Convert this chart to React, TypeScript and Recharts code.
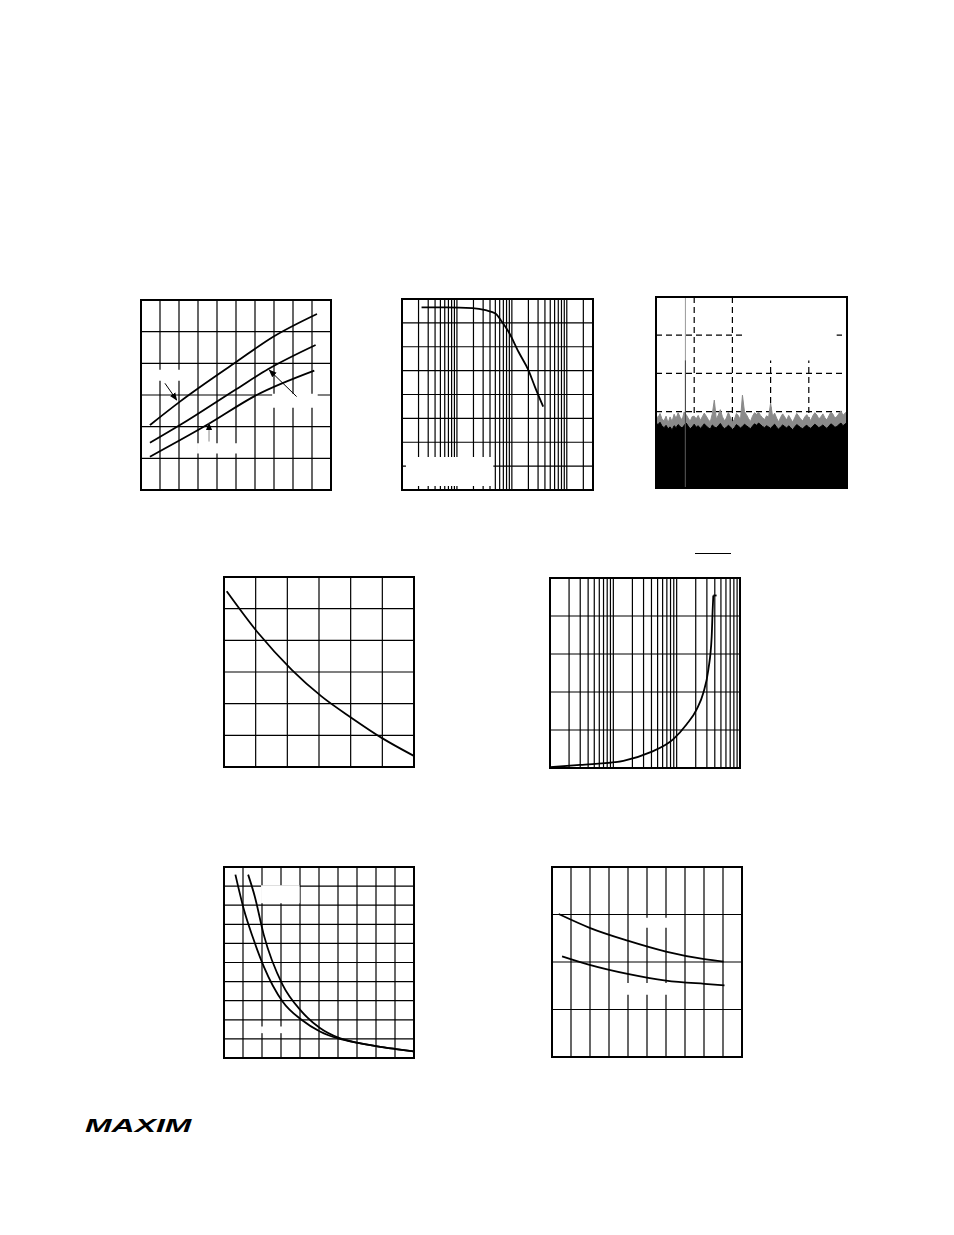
import React from "react";
import {
  ComposedChart,
  Line,
  Area,
  XAxis,
  YAxis,
  CartesianGrid,
  ReferenceArea,
} from "recharts";

// panel 1 (top left): three curves, 10 x 6 linear divisions
const p1UpperX = [0.47, 2.05, 5.03, 6.96, 9.26];
const p1UpperY = [2.05, 2.79, 4.05, 4.84, 5.56];
const p1MidX = [0.47, 2.05, 5.03, 6.7, 9.19];
const p1MidY = [1.49, 2.05, 3.19, 3.82, 4.58];
const p1LowX = [0.47, 3.46, 6.09, 9.12];
const p1LowY = [1.05, 2.05, 3.0, 3.77];

// panel 2 (top middle): roll-off on a log axis, 8 divisions
const p2X = [2.27, 6.37, 19.2, 33.3, 50.4, 63.4, 87.7, 132, 200, 263, 372];
const p2Y = [7.65, 7.65, 7.62, 7.53, 7.39, 7.1, 6.62, 5.79, 5.02, 4.32, 3.49];

// panel 3 (top right): spectrum, noise floor + tone, 5 x 5 divisions
const noiseFloor = [
  1.70, 1.66, 1.72, 1.62, 1.58, 1.64, 1.55, 1.60, 1.52, 1.63, 1.58, 1.66,
  1.61, 1.57, 1.64, 1.70, 1.62, 1.55, 1.60, 1.67, 1.59, 1.63, 1.56, 1.61,
  1.68, 1.62, 1.58, 1.54, 1.65, 1.60, 1.57, 1.63, 1.69, 1.61, 1.55, 1.59,
  1.64, 1.60, 1.53, 1.58, 1.66, 1.62, 1.57, 1.61, 1.67, 1.63, 1.59, 1.55,
  1.62, 1.68, 1.64, 1.70, 1.66, 1.61, 1.58, 1.63, 1.60, 1.56, 1.62, 1.67,
  1.59, 1.54, 1.60, 1.65, 1.61, 1.57, 1.63, 1.58, 1.52, 1.60, 1.66, 1.62,
  1.58, 1.55, 1.61, 1.64, 1.59, 1.56, 1.62, 1.67, 1.63, 1.58, 1.61, 1.65,
  1.60, 1.56, 1.62, 1.68, 1.64, 1.59, 1.61, 1.66, 1.70, 1.63, 1.67, 1.72,
];
const noisePeak = [
  1.90, 1.84, 1.95, 1.80, 1.76, 1.88, 1.70, 1.86, 1.74, 1.93, 1.82, 1.97,
  1.85, 1.78, 1.99, 1.92, 1.83, 1.75, 1.87, 1.88, 1.81, 1.90, 1.77, 1.86,
  1.96, 1.88, 1.79, 1.73, 1.94, 2.30, 1.80, 1.91, 2.05, 1.87, 1.76, 1.83,
  1.98, 1.85, 1.72, 1.80, 1.95, 1.89, 1.78, 2.43, 2.00, 1.92, 1.82, 1.74,
  1.88, 1.97, 1.93, 1.98, 1.90, 1.84, 1.79, 1.89, 1.85, 2.22, 1.87, 1.96,
  1.83, 1.73, 1.85, 1.94, 1.86, 1.78, 1.90, 1.81, 1.72, 1.84, 1.95, 1.88,
  1.80, 1.76, 1.86, 1.92, 1.83, 1.77, 1.89, 1.97, 1.91, 1.81, 1.86, 1.94,
  1.84, 1.78, 1.89, 1.99, 1.93, 1.83, 1.87, 1.95, 2.02, 1.90, 1.96, 2.00,
];
const toneX = [0.77];
const toneTop = [5.0];
const toneCore = [3.34];

// panel 4 (middle left): falling curve, 6 x 6 divisions
const p4X = [0.085, 1.08, 2.14, 3.08, 4.03, 4.98, 5.98];
const p4Y = [5.55, 4.23, 3.07, 2.23, 1.55, 0.92, 0.36];

// panel 5 (middle right): rising curve on log axis, 5 divisions
const p5X = [1, 2.98, 14.4, 37.9, 88.6, 144, 207, 264, 316, 357, 370, 379];
const p5Y = [0.02, 0.08, 0.19, 0.41, 0.76, 1.15, 1.54, 1.98, 2.58, 3.45, 4.15, 4.54];
const p5CapX = [379, 427];
const p5CapY = [4.54, 4.54];

// panel 6 (bottom left): two decaying curves, 10 x 10 divisions
const p6AX = [0.6, 1.05, 1.53, 2.09, 3.08, 4.08, 5.05, 6.05, 7.06, 8.07, 9.05, 9.97];
const p6AY = [9.6, 7.76, 6.28, 4.8, 2.96, 2.0, 1.39, 1.01, 0.79, 0.61, 0.47, 0.35];
const p6BX = [1.27, 1.62, 2.09, 3.08, 4.08, 5.05, 6.05, 7.06, 8.07, 9.05, 9.97];
const p6BY = [9.6, 8.46, 6.46, 3.84, 2.44, 1.57, 1.05, 0.79, 0.61, 0.47, 0.35];

// panel 7 (bottom right): two slowly falling curves, 10 x 4 divisions
const p7UpperX = [0.35, 1.98, 3.98, 6.0, 8.02, 9.03];
const p7UpperY = [3.01, 2.72, 2.45, 2.22, 2.06, 2.01];
const p7LowerX = [0.53, 1.98, 3.98, 6.0, 8.02, 9.08];
const p7LowerY = [2.12, 1.94, 1.75, 1.61, 1.54, 1.51];

// grid ticks
const ticks10 = [1, 2, 3, 4, 5, 6, 7, 8, 9];
const ticks6 = [1, 2, 3, 4, 5];
const ticks8 = [1, 2, 3, 4, 5, 6, 7];
const ticks5 = [1, 2, 3, 4];
const ticks4 = [1, 2, 3];
const logTicks2 = [
  2, 3, 4, 5, 6, 7, 8, 9, 10, 20, 30, 40, 50, 60, 70, 80, 90, 100, 200, 300,
  400, 500, 600, 700, 800, 900, 1000, 2000,
];
const logTicks5 = [
  2, 3, 4, 5, 6, 7, 8, 9, 10, 20, 30, 40, 50, 60, 70, 80, 90, 100, 200, 300,
  400, 500, 600, 700, 800, 900,
];

// arrows in panel 1
const arrow1X = [1.26, 1.88];
const arrow1Y = [3.37, 2.84];
const arrow2X = [8.19, 6.75];
const arrow2Y = [2.95, 3.79];
const arrow3X = [3.58, 3.58];
const arrow3Y = [1.53, 2.11];

const pts = (xs: number[], ys: number[]) => xs.map((x, i) => ({ x, y: ys[i] }));

const noiseData = noiseFloor.map((f, i) => ({
  x: (i * 5) / (noiseFloor.length - 1),
  floor: f,
  peak: noisePeak[i],
}));

const M = { top: 0, right: 0, bottom: 0, left: 0 };

function Panel({ left, top, w, h, children }: any) {
  return (
    <div style={{ position: "absolute", left, top, width: w, height: h, background: "#fff" }}>
      {children}
      <div
        style={{
          position: "absolute",
          left: -1,
          top: -1,
          width: w + 2,
          height: h + 2,
          border: "2px solid #000",
          boxSizing: "border-box",
          pointerEvents: "none",
        }}
      />
    </div>
  );
}

const curve = (data: any[], key: string, color = "#000", width = 1.8) => (
  <Line
    key={key}
    data={data}
    dataKey="y"
    type="monotone"
    stroke={color}
    strokeWidth={width}
    dot={false}
    isAnimationActive={false}
  />
);

const arrow = (data: any[], key: string, color = "#000") => (
  <Line
    key={key}
    data={data}
    dataKey="y"
    type="linear"
    stroke={color}
    strokeWidth={1}
    dot={false}
    markerEnd="url(#arrowHead)"
    isAnimationActive={false}
  />
);

const blank = (x1: number, x2: number, y1: number, y2: number, key: string) => (
  <ReferenceArea
    key={key}
    x1={x1}
    x2={x2}
    y1={y1}
    y2={y2}
    fill="#fff"
    fillOpacity={1}
    stroke="none"
  />
);

export default function App() {
  return (
    <div style={{ position: "relative", width: 954, height: 1235, background: "#fff" }}>
      <style>{"body{margin:0}"}</style>
      <svg width={0} height={0} style={{ position: "absolute" }}>
        <defs>
          <marker id="arrowHead" viewBox="0 0 10 10" refX="9" refY="5" markerWidth="8" markerHeight="8" orient="auto">
            <path d="M0,1 L10,5 L0,9 z" fill="#000" />
          </marker>
        </defs>
      </svg>

      {/* panel 1 */}
      <Panel left={141} top={300} w={190} h={190}>
        <ComposedChart width={190} height={190} margin={M}>
          <XAxis type="number" dataKey="x" domain={[0, 10]} ticks={ticks10} interval={0} hide allowDataOverflow />
          <YAxis type="number" dataKey="y" domain={[0, 6]} ticks={ticks6} interval={0} hide allowDataOverflow />
          <CartesianGrid stroke="#000" strokeWidth={1.2} />
          {blank(0.9, 2.95, 3.45, 3.8, "b1")}
          {blank(6.9, 9.3, 2.6, 3.04, "b2")}
          {blank(2.95, 5.1, 1.15, 1.48, "b3")}
          {curve(pts(p1UpperX, p1UpperY), "u")}
          {curve(pts(p1MidX, p1MidY), "m")}
          {curve(pts(p1LowX, p1LowY), "l")}
          {arrow(pts(arrow1X, arrow1Y), "a1")}
          {arrow(pts(arrow2X, arrow2Y), "a2")}
          {arrow(pts(arrow3X, arrow3Y), "a3", "#888")}
        </ComposedChart>
      </Panel>

      {/* panel 2 */}
      <Panel left={402} top={299} w={191} h={191}>
        <ComposedChart width={191} height={191} margin={M}>
          <XAxis type="number" dataKey="x" scale="log" domain={[1, 3000]} ticks={logTicks2} interval={0} hide allowDataOverflow />
          <YAxis type="number" dataKey="y" domain={[0, 8]} ticks={ticks8} interval={0} hide allowDataOverflow />
          <CartesianGrid stroke="#000" strokeWidth={1.2} />
          {blank(1.18, 46, 0.17, 1.38, "b1")}
          {curve(pts(p2X, p2Y), "c")}
        </ComposedChart>
      </Panel>

      {/* panel 3 */}
      <Panel left={656} top={297} w={191} h={191}>
        <ComposedChart width={191} height={191} margin={M} data={noiseData}>
          <XAxis type="number" dataKey="x" domain={[0, 5]} ticks={ticks5} interval={0} hide allowDataOverflow />
          <YAxis type="number" domain={[0, 5]} ticks={ticks5} interval={0} hide allowDataOverflow />
          <CartesianGrid stroke="#000" strokeWidth={1.2} strokeDasharray="6 4" />
          {blank(2.33, 4.73, 3.34, 5, "b1")}
          <Area dataKey="peak" type="linear" stroke="#8a8a8a" strokeWidth={1} fill="#8a8a8a" fillOpacity={1} isAnimationActive={false} />
          <Area dataKey="floor" type="linear" stroke="#000" strokeWidth={1} fill="#000" fillOpacity={1} isAnimationActive={false} />
          <Line
            data={[{ x: toneX[0], y: 0 }, { x: toneX[0], y: toneTop[0] }]}
            dataKey="y"
            type="linear"
            stroke="#999"
            strokeWidth={1}
            dot={false}
            isAnimationActive={false}
          />
          <Line
            data={[{ x: toneX[0], y: 0 }, { x: toneX[0], y: toneCore[0] }]}
            dataKey="y"
            type="linear"
            stroke="#444"
            strokeWidth={1}
            dot={false}
            isAnimationActive={false}
          />
        </ComposedChart>
      </Panel>

      {/* panel 4 */}
      <Panel left={224} top={577} w={190} h={190}>
        <ComposedChart width={190} height={190} margin={M}>
          <XAxis type="number" dataKey="x" domain={[0, 6]} ticks={ticks6} interval={0} hide allowDataOverflow />
          <YAxis type="number" dataKey="y" domain={[0, 6]} ticks={ticks6} interval={0} hide allowDataOverflow />
          <CartesianGrid stroke="#000" strokeWidth={1.2} />
          {curve(pts(p4X, p4Y), "c")}
        </ComposedChart>
      </Panel>

      {/* panel 5 */}
      <Panel left={550} top={578} w={190} h={190}>
        <ComposedChart width={190} height={190} margin={M}>
          <XAxis type="number" dataKey="x" scale="log" domain={[1, 1000]} ticks={logTicks5} interval={0} hide allowDataOverflow />
          <YAxis type="number" dataKey="y" domain={[0, 5]} ticks={ticks5} interval={0} hide allowDataOverflow />
          <CartesianGrid stroke="#000" strokeWidth={1.2} />
          {curve(pts(p5X, p5Y), "c")}
          <Line
            data={pts(p5CapX, p5CapY)}
            dataKey="y"
            type="linear"
            stroke="#000"
            strokeWidth={1.8}
            dot={false}
            isAnimationActive={false}
          />
        </ComposedChart>
      </Panel>

      {/* panel 6 */}
      <Panel left={224} top={867} w={190} h={191}>
        <ComposedChart width={190} height={191} margin={M}>
          <XAxis type="number" dataKey="x" domain={[0, 10]} ticks={ticks10} interval={0} hide allowDataOverflow />
          <YAxis type="number" dataKey="y" domain={[0, 10]} ticks={ticks10} interval={0} hide allowDataOverflow />
          <CartesianGrid stroke="#000" strokeWidth={1.2} />
          {blank(1.95, 3.98, 8.1, 9.05, "b1")}
          {blank(1.95, 3.5, 1.3, 1.65, "b2")}
          {curve(pts(p6AX, p6AY), "a")}
          {curve(pts(p6BX, p6BY), "b")}
        </ComposedChart>
      </Panel>

      {/* panel 7 */}
      <Panel left={552} top={867} w={190} h={190}>
        <ComposedChart width={190} height={190} margin={M}>
          <XAxis type="number" dataKey="x" domain={[0, 10]} ticks={ticks10} interval={0} hide allowDataOverflow />
          <YAxis type="number" dataKey="y" domain={[0, 4]} ticks={ticks4} interval={0} hide allowDataOverflow />
          <CartesianGrid stroke="#000" strokeWidth={1.2} />
          {blank(4.85, 6.15, 2.72, 2.93, "b1")}
          {blank(3.85, 6.15, 1.31, 1.56, "b2")}
          {curve(pts(p7UpperX, p7UpperY), "u")}
          {curve(pts(p7LowerX, p7LowerY), "l")}
        </ComposedChart>
      </Panel>

      {/* overbar left over from a pin name */}
      <div style={{ position: "absolute", left: 695, top: 553, width: 36, height: 1, background: "#000" }} />

      {/* logo */}
      <div
        style={{
          position: "absolute",
          left: 85,
          top: 1116,
          fontFamily: "'Liberation Sans', Arial, sans-serif",
          fontWeight: 900,
          fontStyle: "italic",
          fontSize: 19,
          lineHeight: "19px",
          transform: "scaleX(1.68)",
          transformOrigin: "left top",
          whiteSpace: "nowrap",
        }}
      >
        MAXIM
      </div>
    </div>
  );
}
